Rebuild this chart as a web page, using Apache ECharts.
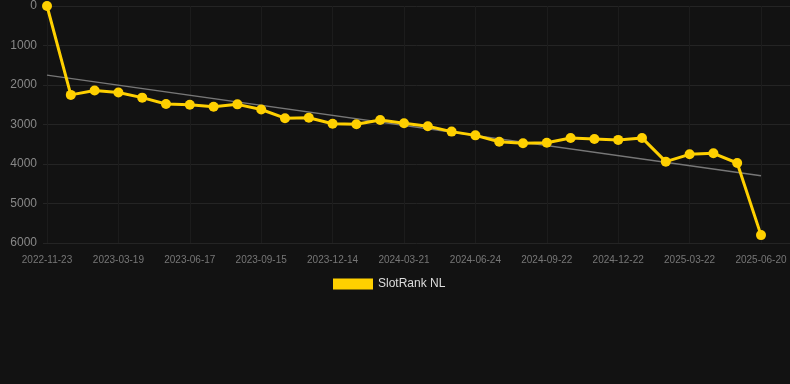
<!DOCTYPE html>
<html>
<head>
<meta charset="utf-8">
<script src="https://cdn.jsdelivr.net/npm/echarts@6/dist/echarts.min.js"></script>
<style>
  html, body { margin: 0; padding: 0; background: #121212; }
  #chart { width: 790px; height: 384px; }
</style>
</head>
<body>
<div id="chart"></div>
<script>
// Rank history (lower on the chart = worse rank)
var dates = [
  '2022-11-23', '2023-01-18', '2023-02-17', '2023-03-19', '2023-04-18', '2023-05-18',
  '2023-06-17', '2023-07-17', '2023-08-16', '2023-09-15', '2023-10-15', '2023-11-14',
  '2023-12-14', '2024-01-13', '2024-02-12', '2024-03-21', '2024-04-20', '2024-05-20',
  '2024-06-24', '2024-07-24', '2024-08-23', '2024-09-22', '2024-10-22', '2024-11-21',
  '2024-12-22', '2025-01-21', '2025-02-20', '2025-03-22', '2025-04-21', '2025-05-21',
  '2025-06-20'
];
var rankNL = [
  0, 2250, 2140, 2190, 2320, 2480, 2500, 2550, 2490, 2620, 2840,
  2830, 2980, 2995, 2885, 2970, 3045, 3180, 3275, 3435, 3475,
  3460, 3340, 3365, 3390, 3340, 3940, 3755, 3730, 3975, 5800
];
// trend line: only the two end values, joined straight
var trend = [1750];
for (var i = 1; i < dates.length - 1; i++) trend.push(null);
trend.push(4295);

var yTicks = { min: 0, max: 6000, interval: 1000 };

var chart = echarts.init(document.getElementById('chart'));
chart.setOption({
  backgroundColor: '#121212',
  animation: false,
  legend: {
    data: ['SlotRank NL'],
    top: 273, left: 328,
    itemWidth: 40, itemHeight: 11, icon: 'rect',
    textStyle: { color: '#dddddd', fontSize: 12, fontFamily: 'Liberation Sans' }
  },
  grid: [
    { left: 43, right: 0, top: 6, bottom: 141 },
    { left: 47, right: 29, top: 6, bottom: 141 }
  ],
  xAxis: [
    { gridIndex: 0, type: 'value', show: false, min: 0, max: 1 },
    {
      gridIndex: 1, type: 'category', data: dates, boundaryGap: false,
      axisLine: { show: false }, axisTick: { show: false },
      axisLabel: { interval: 2, color: '#777777', fontSize: 10, margin: 12, fontFamily: 'Liberation Sans' },
      splitLine: { show: true, interval: 2, lineStyle: { color: '#1c1c1c', width: 1 } }
    }
  ],
  yAxis: [
    {
      gridIndex: 0, type: 'value', inverse: true,
      min: yTicks.min, max: yTicks.max, interval: yTicks.interval,
      axisLine: { show: false }, axisTick: { show: false },
      axisLabel: {
        color: '#888888', fontSize: 12, margin: 6, fontFamily: 'Liberation Sans',
        formatter: function (v) { return String(v); }
      },
      splitLine: { lineStyle: { color: '#242424', width: 1 } }
    },
    {
      gridIndex: 1, type: 'value', inverse: true, show: false,
      min: yTicks.min, max: yTicks.max, interval: yTicks.interval,
      splitLine: { show: false }
    }
  ],
  series: [
    {
      name: 'trend', type: 'line', xAxisIndex: 1, yAxisIndex: 1,
      data: trend, connectNulls: true, showSymbol: false, symbol: 'none',
      lineStyle: { color: '#777777', width: 1.5 }, z: 1
    },
    {
      name: 'SlotRank NL', type: 'line', xAxisIndex: 1, yAxisIndex: 1,
      data: rankNL, symbol: 'circle', symbolSize: 10,
      itemStyle: { color: '#ffd000' },
      lineStyle: { color: '#ffd000', width: 3 }, z: 2
    }
  ]
});
</script>
</body>
</html>
